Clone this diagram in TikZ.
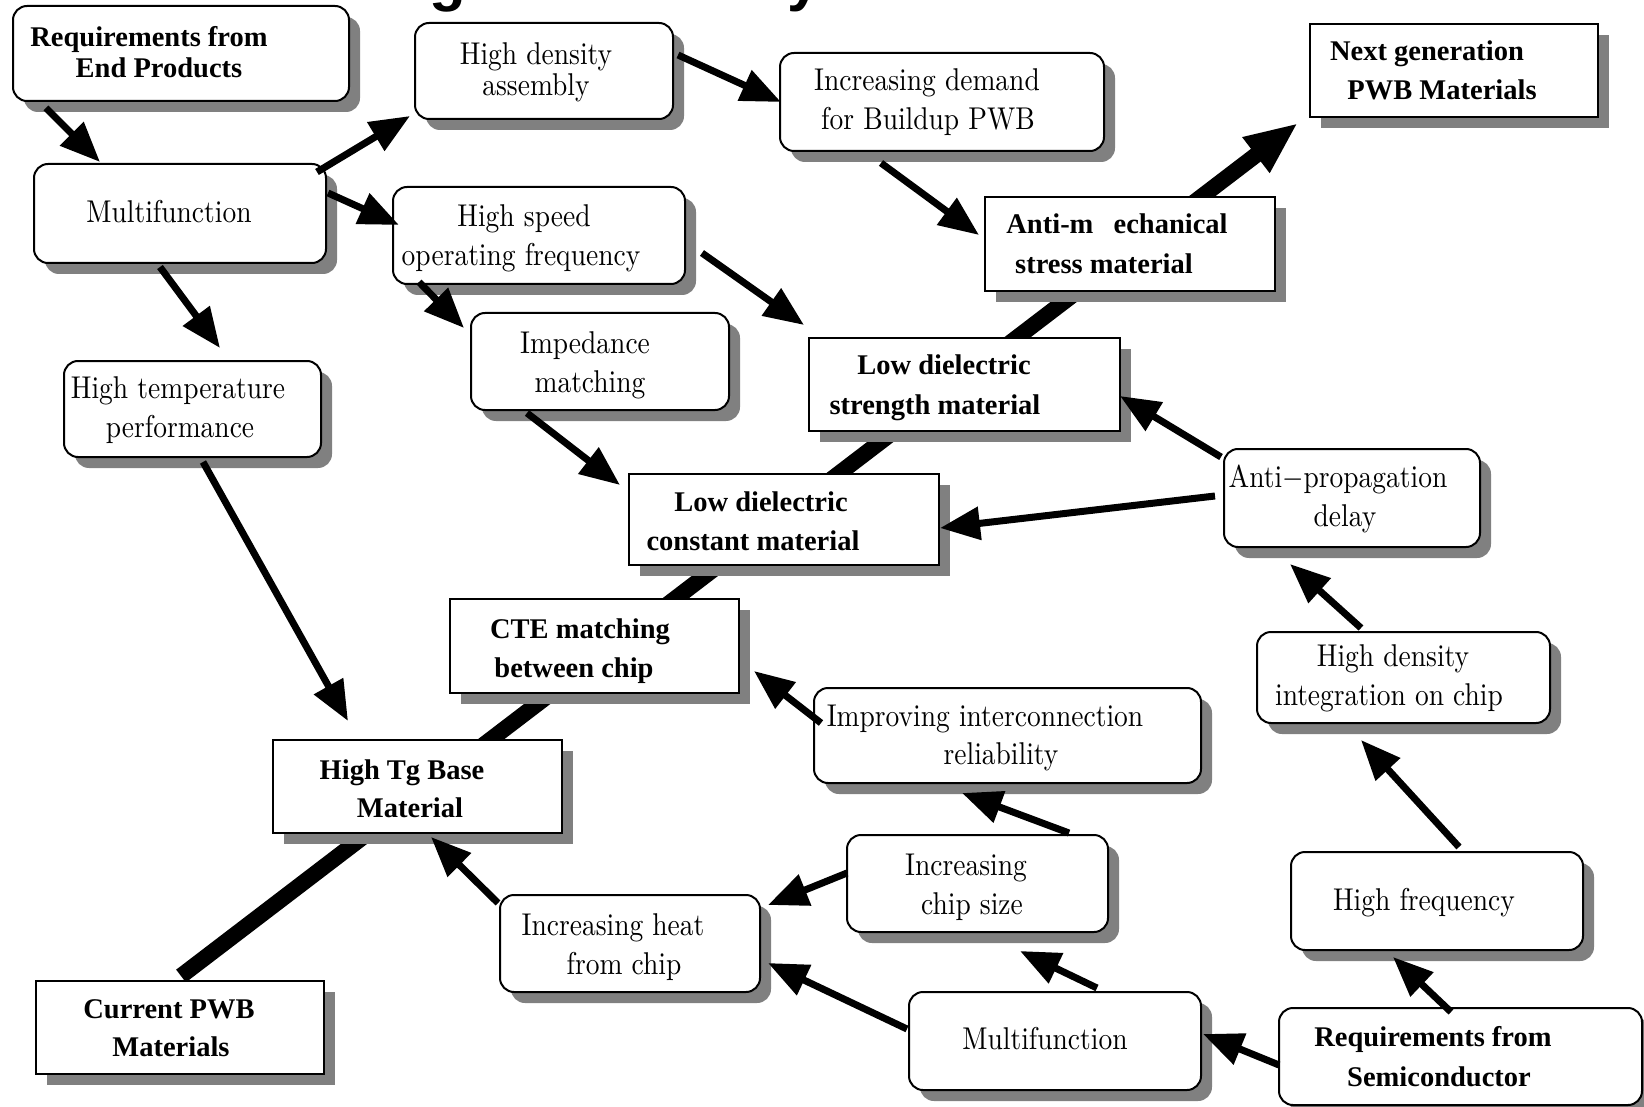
\documentclass[tikz,border=0pt]{standalone}
\usepackage{fontspec}
\newfontfamily\bser{Liberation Serif}
\newfontfamily\tsans{Liberation Sans}
\usetikzlibrary{arrows.meta,shadows,calc,backgrounds}
\definecolor{shadowgray}{RGB}{128,128,128}
\newcommand\rs[1]{\scalebox{2.75}[3.15]{\fontsize{10}{12}\selectfont #1}}
\tikzset{
 shad/.style={drop shadow={shadow xshift=11pt,shadow yshift=-11pt,fill=shadowgray,opacity=1,draw=none}},
 rbox/.style={draw=black,line width=2pt,fill=white,rounded corners=14pt,shad,inner sep=0pt},
 sbox/.style={draw=black,line width=2pt,fill=white,shad,inner sep=0pt},
 rtxt/.style={anchor=base,inner sep=0pt},
 btxt/.style={anchor=base,inner sep=0pt,font=\bser\bfseries\fontsize{28.5}{34}\selectfont},
 arr/.style={line width=7pt,-{Triangle[length=40pt,width=32pt]}},
 bonearr/.style={line width=16pt,-{Triangle[length=53pt,width=41pt]}},
 ttl/.style={anchor=base,inner sep=0pt,font=\tsans\bfseries\fontsize{60}{60}\selectfont},
}
\begin{document}
\begin{tikzpicture}[x=1pt,y=-1pt]
\useasboundingbox (0,0) rectangle (1644,1107);
% title fragments (cut off at top edge)
\node[ttl] (ttlg) at (448,0) {g};
\node[ttl] (ttly) at (804,0) {y};
% rounded boxes
\node[rbox,minimum width=336pt,minimum height=95pt] (reqend) at (181,53.5) {};
\node[rbox,minimum width=258pt,minimum height=96pt] (hda) at (544,71) {};
\node[rbox,minimum width=324pt,minimum height=98pt] (incdem) at (942,102) {};
\node[rbox,minimum width=292pt,minimum height=99pt] (multa) at (180,213.5) {};
\node[rbox,minimum width=292pt,minimum height=97pt] (hspeed) at (539,235.5) {};
\node[rbox,minimum width=257pt,minimum height=96pt] (htemp) at (192.5,409) {};
\node[rbox,minimum width=258pt,minimum height=97pt] (imped) at (600,361.5) {};
\node[rbox,minimum width=256pt,minimum height=98pt] (antiprop) at (1352,498) {};
\node[rbox,minimum width=293pt,minimum height=91pt] (hdint) at (1403.5,677.5) {};
\node[rbox,minimum width=387pt,minimum height=95pt] (improv) at (1007.5,735.5) {};
\node[rbox,minimum width=261pt,minimum height=97pt] (incchip) at (977.5,883.5) {};
\node[rbox,minimum width=260pt,minimum height=97pt] (incheat) at (630,943.5) {};
\node[rbox,minimum width=292pt,minimum height=98pt] (hfreq) at (1437,901) {};
\node[rbox,minimum width=292pt,minimum height=98pt] (multb) at (1055,1041) {};
\node[rbox,minimum width=363pt,minimum height=97pt] (reqsemi) at (1460.5,1056.5) {};
% square boxes
\node[sbox,minimum width=288pt,minimum height=93pt] (nextgen) at (1454,70.5) {};
\node[sbox,minimum width=290pt,minimum height=94pt] (antimech) at (1130,244) {};
\node[sbox,minimum width=311pt,minimum height=93pt] (lds) at (964.5,384.5) {};
\node[sbox,minimum width=310pt,minimum height=91pt] (ldc) at (784,519.5) {};
\node[sbox,minimum width=289pt,minimum height=94pt] (cte) at (594.5,646) {};
\node[sbox,minimum width=289pt,minimum height=93pt] (hightg) at (417.5,786.5) {};
\node[sbox,minimum width=288pt,minimum height=93pt] (curpwb) at (180,1027.5) {};
% texts
\node[btxt] (t1a) at (149,47) {Requirements from};
\node[btxt] (t1b) at (159,78) {End Products};
\node[rtxt] (t2a) at (536,65) {\rs{High density}};
\node[rtxt] (t2b) at (536,96) {\rs{assembly}};
\node[rtxt] (t3a) at (927,91) {\rs{Increasing demand}};
\node[rtxt] (t3b) at (928,130) {\rs{for Buildup PWB}};
\node[rtxt] (t4a) at (169,223) {\rs{Multifunction}};
\node[rtxt] (t5a) at (524,227) {\rs{High speed}};
\node[rtxt] (t5b) at (521,266) {\rs{operating frequency}};
\node[rtxt] (t6a) at (178,398) {\rs{High temperature}};
\node[rtxt] (t6b) at (180,437) {\rs{performance}};
\node[rtxt] (t7a) at (585,353) {\rs{Impedance}};
\node[rtxt] (t7b) at (590,392) {\rs{matching}};
\node[rtxt] (t8a) at (1338,487) {\rs{Anti$-$propagation}};
\node[rtxt] (t8b) at (1345,526) {\rs{delay}};
\node[rtxt] (t9a) at (1393,666) {\rs{High density}};
\node[rtxt] (t9b) at (1389,705) {\rs{integration on chip}};
\node[rtxt] (t10a) at (985,726) {\rs{Improving interconnection}};
\node[rtxt] (t10b) at (1001,764) {\rs{reliability}};
\node[rtxt] (t11a) at (966,875) {\rs{Increasing}};
\node[rtxt] (t11b) at (972,914) {\rs{chip size}};
\node[rtxt] (t12a) at (613,935) {\rs{Increasing heat}};
\node[rtxt] (t12b) at (624,974) {\rs{from chip}};
\node[rtxt] (t13a) at (1424,910) {\rs{High frequency}};
\node[rtxt] (t14a) at (1045,1049) {\rs{Multifunction}};
\node[btxt] (t15a) at (1433,1046) {Requirements from};
\node[btxt] (t15b) at (1439,1086) {Semiconductor};
\node[btxt] (t16a) at (1427,61) {Next generation};
\node[btxt] (t16b) at (1442,100) {PWB Materials};
\node[btxt] (t17a) at (1117,234) {Anti-m\hspace{13pt} echanical};
\node[btxt] (t17b) at (1104,274) {stress material};
\node[btxt] (t18a) at (944,374) {Low dielectric};
\node[btxt] (t18b) at (935,414) {strength material};
\node[btxt] (t19a) at (761,511) {Low dielectric};
\node[btxt] (t19b) at (753,550) {constant material};
\node[btxt] (t20a) at (580,638) {CTE matching};
\node[btxt] (t20b) at (574,677) {between chip};
\node[btxt] (t21a) at (402,779) {High Tg Base};
\node[btxt] (t21b) at (410,817) {Material};
\node[btxt] (t22a) at (169,1018) {Current PWB};
\node[btxt] (t22b) at (171,1056) {Materials};
% backbone (one straight line behind the boxes)
\coordinate (bonestart) at ([shift={(1,-4)}]curpwb.north);
\coordinate (bonetip) at ([shift={(-156,52.5)}]nextgen.center);
\begin{scope}[on background layer]
\fill[white] (0,0) rectangle (1644,1107);
\draw[bonearr] (bonestart) -- (bonetip);
\end{scope}
% arrows
\draw[arr] ([shift={(-135,54.5)}]reqend.center) -- ([shift={(-80,-51.5)}]multa.center);
\draw[arr] ([shift={(137,-41.5)}]multa.center) -- ([shift={(-134,45)}]hda.center);
\draw[arr] ([shift={(148,-20.5)}]multa.center) -- ([shift={(-140,-10.5)}]hspeed.center);
\draw[arr] ([shift={(-20,53.5)}]multa.center) -- ([shift={(27.5,-61)}]htemp.center);
\draw[arr] ([shift={(134,-16)}]hda.center) -- ([shift={(-161,0)}]incdem.center);
\draw[arr] ([shift={(-61,61)}]incdem.center) -- ([shift={(-151,-9)}]antimech.center);
\draw[arr] ([shift={(-120,46.5)}]hspeed.center) -- ([shift={(-136,-33.5)}]imped.center);
\draw[arr] ([shift={(163,17.5)}]hspeed.center) -- ([shift={(-160.5,-59.5)}]lds.center);
\draw[arr] ([shift={(10.5,53)}]htemp.center) -- ([shift={(-69.5,-65.5)}]hightg.center);
\draw[arr] ([shift={(-73,51.5)}]imped.center) -- ([shift={(-164,-34.5)}]ldc.center);
\draw[arr] ([shift={(-131,-41)}]antiprop.center) -- ([shift={(155.5,11.5)}]lds.center);
\draw[arr] ([shift={(-137,-2)}]antiprop.center) -- ([shift={(156,8.5)}]ldc.center);
\draw[arr] ([shift={(-42.5,-49.5)}]hdint.center) -- ([shift={(-62,66)}]antiprop.center);
\draw[arr] ([shift={(22,-54)}]hfreq.center) -- ([shift={(-42.5,62.5)}]hdint.center);
\draw[arr] ([shift={(-9.5,-44.5)}]reqsemi.center) -- ([shift={(-44,56)}]hfreq.center);
\draw[arr] ([shift={(-181.5,8.5)}]reqsemi.center) -- ([shift={(148,-7)}]multb.center);
\draw[arr] ([shift={(42,-53)}]multb.center) -- ([shift={(42.5,67.5)}]incchip.center);
\draw[arr] ([shift={(-148,-12)}]multb.center) -- ([shift={(138,19.5)}]incheat.center);
\draw[arr] ([shift={(-130.5,-10.5)}]incchip.center) -- ([shift={(138,-38.5)}]incheat.center);
\draw[arr] ([shift={(91.5,-50.5)}]incchip.center) -- ([shift={(-45.5,57.5)}]improv.center);
\draw[arr] ([shift={(-186.5,-12.5)}]improv.center) -- ([shift={(159.5,25)}]cte.center);
\draw[arr] ([shift={(-132,-40.5)}]incheat.center) -- ([shift={(13.5,50.5)}]hightg.center);
\end{tikzpicture}
\end{document}
